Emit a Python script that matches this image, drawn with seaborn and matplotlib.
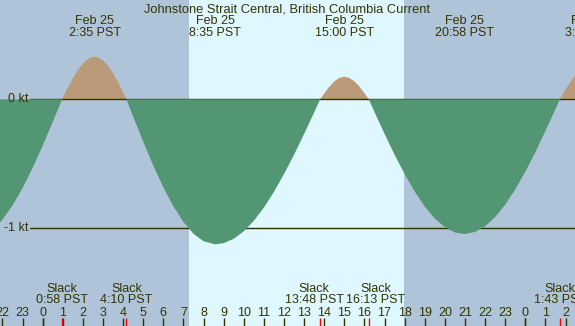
import matplotlib
matplotlib.use("Agg")
import matplotlib.pyplot as plt
import matplotlib.transforms as mtransforms
import seaborn as sns

# current speed (kt), hours from midnight Feb 25 (PST)
hours = [-2.5, -2.0, -1.5, -1.0, -0.5, 0.0, 0.5, 0.967, 1.25, 1.5, 1.75, 2.0, 2.25, 2.5, 2.583,
         2.75, 3.0, 3.25, 3.5, 3.75, 4.0, 4.167, 4.5, 5.0, 5.5, 6.0, 6.5, 7.0, 7.5, 8.0, 8.583,
         9.0, 9.5, 10.0, 10.5, 11.0, 11.5, 12.0, 12.5, 13.0, 13.5, 13.8, 14.0, 14.25, 14.5,
         14.75, 15.0, 15.25, 15.5, 15.75, 16.0, 16.217, 16.5, 17.0, 17.5, 18.0, 18.5, 19.0,
         19.5, 20.0, 20.5, 20.967, 21.5, 22.0, 22.5, 23.0, 23.5, 24.0, 24.5, 25.0, 25.5,
         25.717, 26.0, 26.5, 27.0]
speed = [-1.014, -0.933, -0.824, -0.689, -0.532, -0.361, -0.176, 0.0, 0.090, 0.163, 0.228,
         0.279, 0.313, 0.329, 0.33, 0.325, 0.302, 0.260, 0.203, 0.133, 0.054, 0.0, -0.133,
         -0.328, -0.513, -0.682, -0.829, -0.950, -1.042, -1.100, -1.124, -1.115, -1.081,
         -1.023, -0.942, -0.839, -0.718, -0.579, -0.430, -0.268, -0.102, 0.0, 0.045, 0.097,
         0.139, 0.166, 0.175, 0.166, 0.140, 0.0995, 0.048, 0.0, -0.098, -0.267, -0.430,
         -0.580, -0.715, -0.831, -0.924, -0.991, -1.032, -1.044, -1.028, -0.984, -0.912,
         -0.817, -0.698, -0.561, -0.410, -0.245, -0.075, 0.0, 0.077, 0.194, 0.261]

peak_times = [2.583, 8.583, 15.0, 20.967, 27.25]
peak_dates = ["Feb 25", "Feb 25", "Feb 25", "Feb 25", "Feb 26"]
peak_clock = ["2:35 PST", "8:35 PST", "15:00 PST", "20:58 PST", "3:15 PST"]

slack_times = [0.967, 4.167, 13.8, 16.217, 25.717]
slack_clock = ["0:58 PST", "4:10 PST", "13:48 PST", "16:13 PST", "1:43 PST"]
slack_nudge = [0, 0, -6, 7, 0]   # px, labels pushed apart where they crowd

sunrise = 7.27
sunset = 17.97

tick_hours = list(range(-2, 27))
tick_labels = [str(h % 24) for h in tick_hours]
midnights = [0, 24]

level_values = [0, -1]
level_labels = ["0 kt", "-1 kt"]

title = "Johnstone Strait Central, British Columbia Current"

sns.set_style("white")
plt.rcParams["font.family"] = ["Liberation Sans", "DejaVu Sans"]

night = "#b0c4d9"
day = "#dff7ff"
green = "#529673"
tan = "#bb9a7a"
ink = "#333300"

W, H = 575, 326
fig = plt.figure(figsize=(W / 100, H / 100), dpi=100)
ax = fig.add_axes([0, 0, 1, 1])
ax.set_facecolor(night)
for s in ax.spines.values():
    s.set_visible(False)

ax.axvspan(sunrise, sunset, color=day, lw=0, zorder=0)

# level lines (hidden under the ebb fill)
for v in level_values:
    ax.axhline(v, xmin=30 / W, xmax=1, color=ink, lw=1.0, zorder=2)

ax.fill_between(hours, speed, 0, where=[s >= 0 for s in speed], interpolate=True,
                color=tan, lw=0, zorder=1)
ax.fill_between(hours, speed, 0, where=[s <= 0 for s in speed], interpolate=True,
                color=green, lw=0, zorder=3)

# hour ticks along the bottom
sns.rugplot(x=tick_hours, height=8 / H, color=ink, lw=1.0, ax=ax, expand_margins=False, zorder=4)
sns.rugplot(x=midnights, height=8 / H, color=ink, lw=2.4, ax=ax, expand_margins=False, zorder=4)
sns.rugplot(x=slack_times, height=8 / H, color="red", lw=1.0, ax=ax, expand_margins=False, zorder=5)

ax.set_xlim(-2.12, 26.47)
ax.set_ylim(-1.757, 0.770)
ax.set_xticks([])
ax.set_yticks([])

bt = mtransforms.blended_transform_factory(ax.transData, ax.transAxes)
lt = mtransforms.blended_transform_factory(ax.transAxes, ax.transData)


def ypx(px):
    return 1 - px / H


fs = 9
ax.text(0.5, ypx(12.3), title, transform=ax.transAxes, ha="center", va="baseline",
        fontsize=9.3, color=ink, zorder=6)

for t, d, c in zip(peak_times, peak_dates, peak_clock):
    ax.text(t, ypx(24), d, transform=bt, ha="center", va="baseline", fontsize=fs, color=ink, zorder=6)
    ax.text(t, ypx(36), c, transform=bt, ha="center", va="baseline", fontsize=fs, color=ink, zorder=6)

for t, c, n in zip(slack_times, slack_clock, slack_nudge):
    off = mtransforms.offset_copy(bt, fig=fig, x=n, y=0, units="dots")
    ax.text(t, ypx(291.7), "Slack", transform=off, ha="center", va="baseline", fontsize=fs,
            color=ink, zorder=6)
    ax.text(t, ypx(303.3), c, transform=off, ha="center", va="baseline", fontsize=fs,
            color=ink, zorder=6)

for h, lab in zip(tick_hours, tick_labels):
    ax.text(h, ypx(315.7), lab, transform=bt, ha="center", va="baseline", fontsize=fs,
            color=ink, zorder=6)

for v, lab in zip(level_values, level_labels):
    ax.text(28 / W, v, lab, transform=lt, ha="right", va="center", fontsize=fs,
            color=ink, zorder=6)

fig.savefig("out.png", dpi=100)
